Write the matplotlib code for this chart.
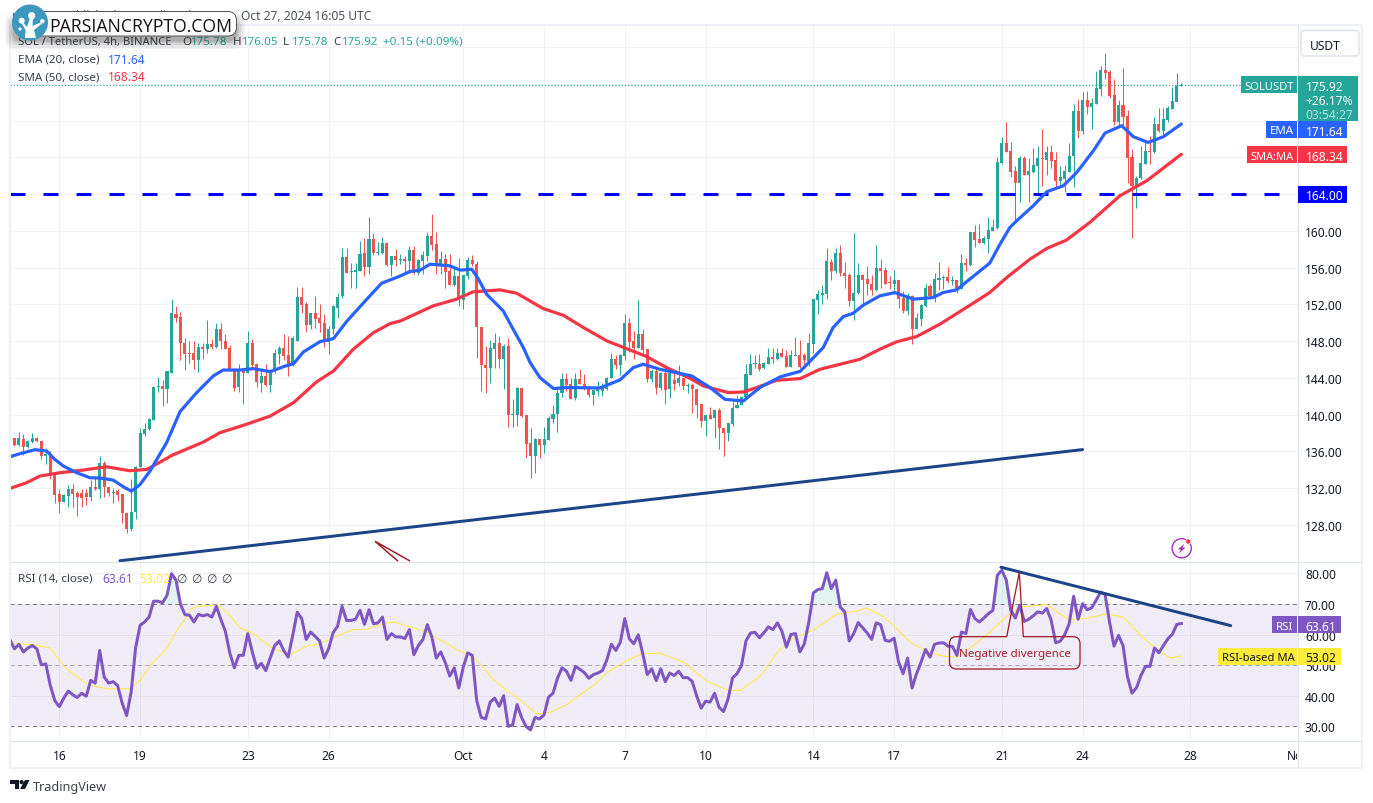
import matplotlib
matplotlib.use("Agg")
import matplotlib.pyplot as plt
import numpy as np
from matplotlib.patches import Rectangle, FancyBboxPatch, Circle, Polygon, PathPatch
from matplotlib.path import Path
from matplotlib.ticker import FixedLocator, FuncFormatter
from matplotlib.transforms import Bbox

FONT = ['Noto Sans', 'DejaVu Sans']
plt.rcParams['font.family'] = FONT
plt.rcParams['lines.scale_dashes'] = False

# ---------- data ----------
opens = [139.42,137.49,136.66,137.39,136.44,137.02,137.42,137.17,135.50,135.75,
133.43,131.32,130.52,131.14,131.87,131.43,131.43,131.43,131.03,132.16,
131.87,134.70,132.16,131.50,131.68,131.32,129.32,127.51,129.40,134.30,
137.86,138.40,139.42,143.01,143.09,142.76,144.54,151.00,150.64,147.84,
146.68,146.68,145.95,147.41,147.12,147.66,147.33,149.37,148.06,147.22,
144.86,143.05,144.76,144.57,147.77,145.48,143.41,144.21,143.19,144.76,
146.61,147.22,146.46,145.37,148.06,152.78,152.02,149.77,151.04,150.49,
150.02,147.91,149.29,151.65,152.93,157.11,155.54,155.54,155.65,157.58,
156.12,159.10,157.58,157.58,158.67,156.27,157.29,156.85,156.92,156.74,
157.90,155.47,156.74,157.29,159.47,158.56,156.20,156.92,155.62,154.09,
155.04,152.49,155.04,156.82,156.45,149.59,145.45,145.05,147.12,147.77,
146.03,147.45,139.93,139.97,142.87,139.93,136.88,135.50,137.32,136.66,
137.24,139.50,140.04,142.33,143.85,143.31,141.78,143.85,143.34,142.95,
142.11,142.58,142.58,142.76,143.96,146.03,145.38,146.39,149.95,147.99,
147.30,148.75,147.12,143.85,144.72,142.95,144.51,142.76,143.74,143.42,
143.96,143.13,143.20,142.84,141.13,139.28,139.93,139.60,140.48,138.59,
137.97,138.95,140.69,141.06,141.96,144.32,145.49,145.49,145.09,145.49,
146.25,146.03,146.76,146.39,145.23,146.39,146.47,146.46,145.84,147.74,
152.50,153.04,153.11,156.67,155.65,157.65,155.47,155.18,152.39,153.22,
155.18,154.75,154.27,153.58,155.94,155.73,154.38,154.20,154.64,152.68,
151.26,152.93,149.37,150.46,151.84,153.95,152.93,154.67,154.89,155.00,
154.57,154.64,153.73,156.56,156.27,159.83,159.10,158.67,159.10,160.01,
160.30,167.38,169.56,168.65,166.48,165.20,167.93,166.11,166.37,167.09,
167.93,167.75,168.54,167.71,165.46,165.64,166.44,168.18,173.01,170.87,
174.25,173.45,173.81,175.44,177.51,177.26,174.79,171.81,173.70,172.47,
168.00,164.84,165.71,167.27,168.65,168.54,171.63,170.87,172.10,173.26,174.06,175.78]

closes = [137.42,136.66,137.42,136.48,137.09,137.42,137.13,135.46,135.75,133.61,
131.25,130.49,131.21,131.90,131.32,131.03,130.96,131.03,132.16,131.87,
134.70,132.12,131.43,131.61,131.21,129.32,127.51,129.43,134.33,137.97,
138.47,139.49,142.98,143.12,142.76,144.72,151.04,150.49,147.77,146.61,
146.61,145.95,147.41,147.15,147.66,147.33,149.37,147.99,147.15,144.94,
142.94,144.76,144.57,147.77,145.41,143.56,144.21,143.23,144.76,146.68,
147.22,146.39,145.30,148.31,152.78,151.94,149.77,151.04,150.38,149.95,
147.91,149.29,151.84,152.85,157.11,155.40,155.62,155.73,157.47,156.09,
159.10,157.58,157.72,158.67,156.27,157.29,156.81,156.92,156.71,157.90,
155.47,156.81,157.36,159.47,158.45,156.20,156.92,155.54,154.09,155.04,
152.57,155.18,156.82,156.38,149.55,145.41,145.05,147.23,147.77,146.10,
147.45,139.93,140.11,142.87,139.86,136.77,135.50,137.32,136.66,137.32,
139.60,140.11,142.40,143.85,143.20,141.75,143.85,143.31,142.84,142.11,
142.65,142.87,142.95,144.03,146.03,145.41,146.50,149.95,147.92,147.30,
148.75,147.05,143.85,144.72,142.95,144.51,142.65,144.58,143.38,143.96,
143.13,143.20,142.76,141.06,139.31,139.93,139.57,140.48,138.51,137.97,
139.06,140.77,141.09,141.96,144.40,145.49,145.60,145.01,145.60,146.25,
146.03,146.76,146.32,145.20,146.47,146.50,145.20,145.95,147.77,152.57,
153.11,153.22,156.74,155.65,157.65,155.47,155.11,152.39,153.29,155.18,
154.67,154.20,153.58,155.94,155.65,154.27,154.31,154.64,152.57,151.26,
152.93,149.37,150.50,151.95,153.84,152.93,154.75,154.86,155.00,154.57,
154.64,153.73,156.56,156.31,159.83,159.00,158.67,159.18,160.05,160.38,
167.46,169.56,168.62,166.44,165.20,167.93,166.11,166.48,167.16,167.93,
167.82,168.54,167.64,165.46,165.82,166.48,168.11,173.01,170.87,174.25,
173.52,173.88,175.52,177.51,177.19,174.72,171.85,173.70,172.43,167.96,
164.91,165.75,167.38,168.65,168.58,171.59,170.83,172.18,173.37,174.14,175.78,175.92]

highs = [139.60,137.49,138.15,137.93,137.24,137.97,137.53,137.17,136.40,136.04,
133.43,131.87,131.32,132.37,132.41,131.72,131.87,131.87,132.85,133.32,
135.50,134.92,132.16,132.05,131.87,131.32,129.32,133.03,134.41,138.58,
139.13,139.60,142.98,144.10,143.78,144.76,152.56,151.84,151.18,148.39,
147.99,148.02,147.77,147.77,150.27,148.20,149.95,149.95,148.75,147.55,
145.12,145.48,145.01,149.08,148.20,145.66,144.76,145.48,144.94,147.12,
147.48,148.75,148.57,148.57,153.94,153.94,152.27,151.04,152.93,152.02,
150.93,149.66,151.94,153.22,158.12,158.12,156.49,156.49,158.92,159.28,
161.46,159.76,158.74,159.39,158.81,157.29,158.01,157.47,157.29,158.38,
158.38,156.92,157.83,159.83,161.83,159.90,157.76,157.47,157.47,156.20,
157.00,155.18,157.21,157.36,156.71,149.59,147.48,148.10,148.94,148.57,
147.67,148.39,141.67,143.02,142.87,139.93,138.59,137.50,137.39,138.70,
139.86,141.06,142.76,144.58,144.58,144.03,144.51,144.94,144.40,142.95,
142.84,143.67,143.42,144.14,146.68,146.50,146.58,151.01,150.57,149.12,
152.46,149.37,147.19,144.94,145.12,144.65,145.49,144.65,144.76,145.38,
144.03,143.49,143.42,142.84,141.13,139.93,140.87,140.48,140.77,138.59,
139.06,141.49,142.11,142.04,145.49,146.65,146.47,146.58,145.78,147.30,
147.30,147.23,147.30,147.05,147.05,148.43,148.10,146.75,148.86,152.57,
153.58,154.09,158.12,156.93,158.09,158.45,156.63,155.47,159.72,156.49,
155.36,156.13,155.18,158.45,156.93,156.02,155.11,155.73,154.67,153.48,
153.29,153.00,151.04,152.02,154.27,154.27,155.47,156.67,155.18,156.02,
155.11,154.64,157.54,157.00,159.90,160.63,160.74,159.47,161.54,161.28,
168.04,170.21,171.81,169.63,167.09,168.11,168.18,167.93,168.98,169.20,
171.09,169.20,169.34,168.54,167.02,167.16,169.56,173.81,174.35,175.08,
175.26,174.43,177.37,177.91,179.36,177.55,176.53,174.25,177.73,173.16,
168.91,166.00,169.27,169.63,170.29,172.36,173.37,173.34,173.56,175.70,177.19,176.05]

lows = [137.42,136.55,136.55,135.64,136.40,136.95,137.02,135.13,134.59,133.03,
130.41,129.29,130.49,129.98,129.94,128.96,129.94,130.12,130.59,131.79,
130.92,131.07,131.14,130.41,130.59,128.23,127.15,127.33,128.60,134.30,
137.67,138.33,139.42,142.47,140.94,141.23,144.54,150.09,145.95,144.86,
145.66,144.94,144.65,146.10,146.68,147.12,147.26,147.12,147.12,144.76,
142.58,142.47,141.12,144.50,145.12,143.05,142.47,143.12,142.47,144.57,
145.48,145.95,144.21,145.30,147.99,151.04,149.00,149.37,149.48,149.00,
147.37,146.57,148.75,150.57,152.75,155.40,153.84,153.84,155.65,155.11,
155.29,157.36,157.36,157.54,156.20,155.11,156.20,156.38,155.58,155.47,
155.29,155.18,155.29,156.74,157.94,155.29,155.29,153.77,154.09,153.95,
151.84,151.48,154.82,156.20,146.14,142.58,142.33,143.49,145.12,145.12,
142.76,138.62,138.62,138.77,139.79,135.28,133.07,133.61,135.28,135.86,
137.24,139.06,138.12,141.93,142.58,141.67,141.60,143.31,142.69,141.96,
141.06,142.04,142.04,142.69,143.96,144.94,144.29,145.96,146.83,146.10,
147.23,146.76,143.56,143.56,142.22,142.69,141.13,141.78,142.69,143.13,
142.69,142.40,140.15,139.68,138.66,137.68,139.50,137.43,136.23,135.50,
137.14,138.77,140.69,141.06,141.67,144.29,145.12,144.76,145.01,145.49,
145.67,145.96,146.29,145.16,145.16,146.39,145.12,145.30,145.30,146.75,
150.93,152.02,152.57,154.67,155.47,155.04,153.80,151.84,150.32,153.11,
152.02,153.00,153.04,153.48,153.84,154.20,153.66,153.11,151.62,151.04,
150.83,147.67,149.30,149.66,151.77,152.86,152.21,153.58,153.73,154.38,
154.09,153.29,153.66,155.65,156.20,158.20,158.67,158.60,157.58,159.98,
160.19,167.27,168.55,165.82,161.10,163.10,166.07,163.10,166.29,163.82,
164.91,166.07,166.84,164.62,164.73,164.26,166.37,164.80,170.14,170.58,
172.72,171.09,173.81,174.72,176.53,174.46,171.52,171.38,171.38,165.20,
159.25,162.52,165.64,167.24,167.27,168.47,170.72,170.43,171.81,173.26,174.06,175.78]

ema_bars = [0,2.2,5.6,8.2,10,11.9,14.9,17.8,20.1,23,25.6,27.1,29,31.2,34.9,37.9,41.6,45.3,47.5,51.3,54.2,58,61,63.2,65.4,69.1,72.1,75,79.5,82.8,87,
89.1,91.4,93.6,98,100.3,102.9,104.4,106.2,109.9,112.2,114.4,115.9,118.1,121.1,124,131.5,135.9,138.9,141.1,144.8,151.9,156,159.3,163.4,167.1,171.6,176.1,
181.2,183.4,185.7,187.9,190.1,193.8,197.2,201.3,205.7,207.9,210.9,214.6,218.3,220.6,222.8,224.3,228,231,234.7,237.7,241.4,244,247.7,250.3,253.6,257,261]
ema_vals = [135.42,135.75,136.19,136.04,135.13,134.41,133.68,133.14,133.10,132.88,132.05,131.68,132.41,133.86,136.95,140.33,142.40,144.21,144.86,144.86,145.01,144.68,145.23,145.55,146.83,147.95,148.28,150.13,152.56,154.30,155.10,
155.58,155.73,156.38,156.20,155.73,155.83,154.75,153.11,151.30,149.23,147.30,145.67,144.03,142.84,142.95,142.91,143.78,145.12,145.49,144.94,144.22,142.95,141.67,141.49,142.95,144.11,144.72,
147.30,149.48,150.68,151.04,151.91,152.93,153.29,152.57,152.75,153.29,153.58,155.04,156.49,158.56,160.38,161.10,162.74,164.26,164.91,166.37,168.73,170.65,171.45,170.25,169.63,170.25,171.64]

sma_bars = [0,3.7,6.7,11.1,16.3,21.5,26.7,30.5,36.4,43.1,46.8,52,58,63.2,68.3,72.1,76.5,81,84.7,87,
94.3,99.5,103.2,109.2,112.9,118.8,123.3,127.8,133,141.9,146.3,151.5,154.5,160.1,163.4,166.4,170.8,176.1,
180.5,189.4,193.8,197.5,202,207.2,213.9,218.3,222.1,227.3,231,235.4,240.6,247.3,253.3,261]
sma_vals = [131.97,132.59,133.32,133.68,133.97,134.33,133.90,134.04,135.64,137.02,138.04,138.84,139.85,141.31,143.56,144.76,147.12,148.93,149.91,150.20,
151.84,152.57,153.37,153.58,153.22,151.55,150.82,149.48,148.03,146.32,145.12,143.96,143.13,142.40,142.47,142.95,143.74,143.93,
144.94,146.03,147.12,147.92,148.50,149.85,151.91,153.29,154.93,156.93,158.09,159.00,160.92,163.82,165.46,168.34]

rsi_vals = [58.3,55.3,56.8,54.3,55.6,56.4,55.3,50.1,50.4,43.3,38.4,36.4,39.2,41.5,40.3,39.4,40.8,39.8,45.0,44.1,
54.8,46.1,44.1,44.6,43.3,37.6,33.5,41.1,55.6,63.0,64.1,65.7,70.9,70.9,70.4,72.8,79.9,77.8,69.9,66.5,
66.3,64.1,66.6,66.1,66.5,65.7,69.2,64.9,61.1,53.9,49.1,53.2,53.2,60.3,54.3,49.0,50.6,48.2,52.4,56.4,
57.9,54.8,52.6,59.7,67.3,65.2,58.4,60.8,59.4,57.9,52.3,55.3,60.6,62.7,69.2,64.6,64.6,65.0,67.9,63.3,
68.1,63.5,63.8,65.7,58.4,60.3,59.2,59.2,58.7,61.6,53.4,56.4,58.3,63.2,59.2,52.3,54.3,50.8,46.4,49.1,
42.5,49.3,54.0,53.2,38.4,32.9,32.4,37.9,39.2,36.5,40.0,30.0,30.4,37.1,32.9,29.9,28.8,32.9,32.4,33.7,
39.5,40.8,45.7,49.1,48.0,45.0,49.6,48.6,47.5,45.7,46.9,47.4,48.2,51.7,56.8,54.8,57.5,65.2,58.6,57.0,
59.9,53.7,46.9,48.8,44.9,48.8,44.6,47.4,46.6,48.0,45.9,45.9,44.7,40.0,35.9,38.2,37.9,40.8,36.2,34.8,
38.9,45.8,47.2,49.9,57.9,60.5,60.7,59.0,60.6,62.5,61.6,63.8,61.1,55.9,60.0,60.3,54.3,57.0,64.1,73.6,
74.7,75.0,80.2,75.0,77.8,69.0,67.4,57.9,60.3,63.9,62.2,60.5,58.4,63.8,63.2,58.1,57.8,58.8,51.0,47.2,
52.3,42.5,47.2,51.0,55.1,52.6,56.8,57.2,57.3,56.2,56.1,53.2,60.8,60.3,68.2,65.2,64.1,65.4,66.8,67.9,
79.4,81.0,77.8,67.9,65.4,69.6,64.3,65.0,66.1,67.4,67.0,68.5,64.6,57.3,57.8,59.9,63.5,72.5,65.0,70.1,
68.1,68.7,71.2,73.9,73.1,64.1,56.2,59.7,56.4,46.1,40.8,42.6,46.6,49.6,49.6,55.6,54.0,56.4,58.6,60.1,63.3,63.61]

rsi_ma_bars = [0,5.2,8.9,10.8,12.6,16.3,18.6,21.9,26.7,29,31.9,34.9,37.1,40.5,42.3,46.1,48.3,51.3,54.2,58.7,62.4,66.1,69.1,72.1,76.5,79.5,83.2,85.4,88.4,92.9,95.8,100.3,
102.5,104.8,107.7,110.7,114.4,117.4,120.4,124.1,126.3,130,133.7,137.5,140.8,144.9,150.1,155.3,160.1,162.7,167.2,171.3,174.6,179,184.2,188.7,190.9,194.7,197.6,200.6,
204.3,208,211,214.7,218.4,222.1,225.5,231.1,233.3,235.9,239.2,244.4,248.1,251.9,256.3,258.6,261]
rsi_ma_vals = [57.0,56.7,55.6,52.1,48.8,44.7,43.1,42.2,42.3,45.0,51.0,55.3,61.1,68.5,69.3,69.6,67.4,62.2,60.3,55.3,53.4,56.2,57.0,59.0,61.6,61.7,63.5,64.1,62.9,60.8,58.3,54.5,
53.7,50.4,45.3,41.7,37.9,34.0,34.6,37.1,39.5,43.3,48.2,51.5,53.7,53.9,51.0,44.7,41.7,41.7,46.3,54.8,59.0,61.4,66.6,67.7,68.7,65.7,61.9,57.5,
54.5,52.9,52.6,56.4,60.8,66.1,69.0,69.8,67.4,64.9,65.2,66.7,65.7,59.7,54.3,52.3,53.02]

support_level = 164.0
price_trend_bars = [24.5, 239]
price_trend_vals = [124.1, 136.2]
rsi_trend_bars = [220.8, 272]
rsi_trend_vals = [82.0, 62.9]

date_ticks = [11, 29, 53, 71, 101, 119, 137, 155, 179, 197, 221, 239, 263, 287]
date_labels = ['16', '19', '23', '26', 'Oct', '4', '7', '10', '14', '17', '21', '24', '28', 'Nov']
price_ticks = list(range(128, 184, 4))
rsi_ticks = [30, 40, 50, 60, 70, 80]

UP, DOWN = '#26a69a', '#ef5350'
BLUE, RED, PURPLE, YEL = '#2962ff', '#f23645', '#7e57c2', '#ffeb3b'
TXT = '#131722'
NAVY = '#1c4587'
GRID = '#f1f2f5'
BORDER = '#e0e3eb'
OUTER = '#eff0f5'
W, H = 1373, 804
PX = 0.72
PANE_L, PANE_R = 10, 1298.1

fig = plt.figure(figsize=(W / 100, H / 100), dpi=100, facecolor='white')

def pane(x0, y0, x1, y1):
    return fig.add_axes([x0 / W, 1 - y1 / H, (x1 - x0) / W, (y1 - y0) / H])

ax = pane(PANE_L, 26, PANE_R, 562.5)
rx = pane(PANE_L, 562.5, PANE_R, 741)
XL = (0.016, 287.01)
for a in (ax, rx):
    a.set_xlim(*XL)
    a.set_axisbelow(True)
    a.set_facecolor('white')
    for s in a.spines.values():
        s.set_visible(False)
    a.xaxis.set_major_locator(FixedLocator(date_ticks))
    a.grid(True, color=GRID, lw=1 * PX)
    a.yaxis.tick_right()
    a.tick_params(length=0, labelsize=12 * PX, colors=TXT, pad=4.9)

ax.set_ylim(124.02, 182.41)
ax.yaxis.set_major_locator(FixedLocator(price_ticks))
ax.yaxis.set_major_formatter(FuncFormatter(lambda v, p: f'{v:.2f}' if v <= 160 else ''))
ax.xaxis.set_major_formatter(FuncFormatter(lambda v, p: ''))

# candles
bars = np.arange(len(opens))
o, h, l, c = map(np.array, (opens, highs, lows, closes))
cols = np.where(c >= o, UP, DOWN)
ax.vlines(bars, l, h, colors=cols, lw=1 * PX, zorder=3)
ax.bar(bars, np.maximum(np.abs(c - o), 0.1), bottom=np.minimum(o, c), width=0.68, color=cols, lw=0, zorder=3)

ax.plot(ema_bars, ema_vals, color=BLUE, lw=3.2 * PX, zorder=5, solid_capstyle='round', solid_joinstyle='round')
ax.plot(sma_bars, sma_vals, color=RED, lw=3.2 * PX, zorder=4, solid_capstyle='round', solid_joinstyle='round')

span = PANE_R - PANE_L
ax.axhline(support_level, xmax=(1280 - PANE_L) / span, color='#0000ff', lw=3 * PX, zorder=4,
           dash_capstyle='butt', ls=(0, (15 * PX, 18 * PX)))
ax.axhline(closes[-1], xmax=(1241 - PANE_L) / span, color=UP, lw=1.2 * PX, zorder=2, ls=(0, (1.2 * PX, 2 * PX)))
ax.plot(price_trend_bars, price_trend_vals, color=NAVY, lw=3 * PX, zorder=5, solid_capstyle='round')

# RSI pane
rx.set_ylim(25.51, 83.87)
rx.yaxis.set_major_locator(FixedLocator(rsi_ticks))
rx.yaxis.set_major_formatter(FuncFormatter(lambda v, p: f'{v:.2f}'))
rx.set_xticklabels(date_labels)
rx.tick_params(axis='x', pad=6.3)
rx.axhspan(30, 70, color=PURPLE, alpha=0.10, lw=0, zorder=1)
for lev, al in ((70, 1), (50, .55), (30, 1)):
    rx.axhline(lev, color='#787b86', lw=1 * PX, alpha=al, ls=(0, (4 * PX, 3.5 * PX)), zorder=2, dash_capstyle='butt')
rsi_bars = np.arange(len(rsi_vals))
rsi = np.array(rsi_vals)
rx.fill_between(rsi_bars, 70, rsi, where=rsi > 70, interpolate=True, color=UP, alpha=.13, lw=0, zorder=2)
rx.plot(rsi_ma_bars, rsi_ma_vals, color=YEL, lw=1 * PX, zorder=3)
rx.plot(rsi_bars, rsi, color=PURPLE, lw=3 * PX, zorder=4, solid_joinstyle='round')
rx.plot(rsi_trend_bars, rsi_trend_vals, color=NAVY, lw=3 * PX, zorder=6, solid_capstyle='round')
clip_right = Bbox([[0, 0], [1297, H]])
for lbl in rx.get_xticklabels():
    lbl.set_clip_box(clip_right)
    lbl.set_clip_on(True)

# ---------- overlay (pixels) ----------
oa = fig.add_axes([0, 0, 1, 1], zorder=10)
oa.set_xlim(0, W)
oa.set_ylim(H, 0)
oa.axis('off')
oa.patch.set_alpha(0)

def T(x, y, s, color=TXT, size=12, ha='left', **kw):
    return oa.text(x, y, s, color=color, fontsize=size * PX, ha=ha, va='center_baseline', **kw)

def box(x0, y0, x1, y1, fc, **kw):
    oa.add_patch(Rectangle((x0, y0), x1 - x0, y1 - y0, fc=fc, ec='none', **kw))

# frame
for seg in (((9.5, 25.5), (1362, 25.5)), ((1362, 25.5), (1362, 768.5)), ((9.5, 768.5), (1362, 768.5)), ((9.5, 25.5), (9.5, 768.5))):
    oa.plot(*zip(*seg), color=OUTER, lw=2 * PX, solid_capstyle='butt', zorder=1)
for seg in (((10, 562.5), (1361, 562.5)), ((10, 741.5), (1361, 741.5)), ((1297.5, 26), (1297.5, 768))):
    oa.plot(*zip(*seg), color=BORDER, lw=1.2 * PX, solid_capstyle='butt', zorder=1)

# header and legends
T(371, 15, 'published on TradingView.com, Oct 27, 2024 16:05 UTC', color='#4a4e58', size=12, ha='right')
T(12, 15, 'm', color='#4a4e58')
y = 41
T(18, y, 'SOL / TetherUS, 4h, BINANCE', color='#3a3e48', size=11.2)
for x, lab, val in ((182, 'O', '175.78'), (233, 'H', '176.05'), (283, 'L', '175.78'), (333, 'C', '175.92')):
    T(x, y, lab, color='#3a3e48', size=11.6)
    T(x + 8.5, y, val, color=UP, size=11.6)
T(383, y, '+0.15 (+0.09%)', color=UP, size=11.6)
T(18, 59, 'EMA (20, close)', color='#3a3e48', size=11.6)
T(108, 59, '171.64', color=BLUE)
T(18, 76, 'SMA (50, close)', color='#3a3e48', size=11.6)
T(107.5, 76, '168.34', color=RED)
T(18, 578, 'RSI (14, close)', color='#3a3e48', size=11.6)
T(102, 578, '63.61', color=PURPLE)
T(139, 578, '53.02', color=YEL)
for x in (176, 191, 206, 221):
    T(x, 578, '\u2205', color='#3a3e48')

# logo (drawn over the header)
LZ = 6
for grow, al in ((9, .05), (7, .06), (5, .08), (3, .10), (1.5, .12)):
    oa.add_patch(FancyBboxPatch((14 - grow, 23 - grow), 222 + 2 * grow, 18 + 2 * grow,
                                boxstyle='round,pad=0,rounding_size=10', fc='#222222', ec='none', alpha=al, zorder=LZ))
oa.add_patch(FancyBboxPatch((30, 12.5), 206.5, 24.5, boxstyle='round,pad=0,rounding_size=9',
                            fc='white', ec='#555555', lw=1 * PX, zorder=LZ))
T(49.5, 25.5, 'PARSIANCRYPTO.COM', color='#111111', size=17.6, family='Open Sans', fontweight='medium', zorder=LZ + 1)
oa.add_patch(Circle((30, 23.5), 18, fc='#3d98bf', ec='none', zorder=LZ + 1))
for cx, cy, r in ((31.7, 16.7, 3.6), (21.7, 21.7, 3), (42.3, 22.3, 2.2), (20, 30, 1.6)):
    oa.add_patch(Circle((cx, cy), r, fc='white', ec='none', zorder=LZ + 2))
oa.add_patch(Polygon([(25, 39), (25.5, 31), (21.5, 24), (23.5, 24), (27, 28), (30, 19), (33, 19), (32.5, 27),
                      (40.5, 23.5), (41.5, 25), (34, 31), (36, 39)], fc='white', ec='none', zorder=LZ + 2))

# scale tags
oa.add_patch(FancyBboxPatch((1301, 31.5), 58, 25.5, boxstyle='round,pad=0,rounding_size=3', fc='white', ec=BORDER, lw=1.5 * PX))
T(1310, 44.5, 'USDT')
box(1241, 77.3, 1297, 94, UP)
T(1269, 85.7, 'SOLUSDT', color='white', ha='center', size=11.2, fontweight='medium')
box(1298, 77.3, 1358, 121.7, UP)
T(1305.5, 85.7, '175.92', color='white', fontweight='medium')
T(1305.5, 100, '+26.17%', color='white', fontweight='medium')
T(1305.5, 114, '03:54:27', color='#b7e2dd')
box(1266, 122, 1297, 139, BLUE)
T(1281.5, 130.5, 'EMA', color='white', ha='center', size=11.4, fontweight='medium')
box(1298, 122, 1346.7, 139, BLUE)
T(1305.5, 130.5, '171.64', color='white', fontweight='medium')
box(1247, 147.3, 1297, 164, RED)
T(1272, 155.7, 'SMA:MA', color='white', ha='center', size=11, fontweight='medium')
box(1298, 147.3, 1346.7, 164, RED)
T(1305.5, 155.7, '168.34', color='white', fontweight='medium')
box(1298, 187, 1346.7, 203.7, '#0000ff')
T(1305.5, 195.3, '164.00', color='white', fontweight='medium')
box(1272, 617.3, 1297, 634, PURPLE)
T(1284.5, 625.7, 'RSI', color='white', ha='center', size=11.4, fontweight='medium')
box(1298, 617.3, 1341, 634, PURPLE)
T(1305.5, 625.7, '63.61', color='white', fontweight='medium')
box(1218, 649, 1297, 666, YEL)
T(1222.5, 657.5, 'RSI-based MA', color=TXT, size=11.2)
box(1298, 649, 1341, 666, YEL)
T(1305.5, 657.5, '53.02', color=TXT)

# callout
DR = '#a61c2a'
x0c, x1c, y0c, y1c, r = 949.5, 1080, 637.7, 670, 7
verts = [(1006.7, y0c), (1019.3, 573.3), (1023.3, y0c), (x1c - r, y0c), (x1c, y0c), (x1c, y0c + r), (x1c, y1c - r), (x1c, y1c), (x1c - r, y1c),
         (x0c + r, y1c), (x0c, y1c), (x0c, y1c - r), (x0c, y0c + r), (x0c, y0c), (x0c + r, y0c), (1006.7, y0c)]
codes = [Path.MOVETO, Path.LINETO, Path.LINETO, Path.LINETO, Path.CURVE3, Path.CURVE3, Path.LINETO, Path.CURVE3, Path.CURVE3,
         Path.LINETO, Path.CURVE3, Path.CURVE3, Path.LINETO, Path.CURVE3, Path.CURVE3, Path.LINETO]
oa.add_patch(PathPatch(Path(verts, codes), fc='none', ec=DR, lw=1.3 * PX))
T(1014.5, 653.5, 'Negative divergence', color=DR, ha='center', size=11.6)
# partly visible callout above the RSI pane
oa.plot([397.5, 375, 409.5], [561.7, 542.3, 561.7], color='#9c1c2a', lw=1.5 * PX, solid_joinstyle='miter')

# flash icon
oa.add_patch(Circle((1181.7, 549.3), 9.6, fc='white', ec='#9c27b0', lw=1.3 * PX))
oa.add_patch(Polygon([(1184.5, 544.5), (1178, 550.5), (1181, 550.5), (1178.7, 554.5), (1185.5, 548.5), (1182.3, 548.5)], fc='#9c27b0', ec='none'))
oa.add_patch(Circle((1188.3, 542.5), 2.6, fc=RED, ec='white', lw=.5))

# TradingView mark
oa.add_patch(Polygon([(10, 781), (19, 781), (19, 790), (14.5, 790), (14.5, 785.3), (10, 785.3)], fc='#131722', ec='none'))
oa.add_patch(Circle((21.6, 783.1), 2.1, fc='#131722', ec='none'))
oa.add_patch(Polygon([(25, 781), (29.5, 781), (25, 790), (20, 790)], fc='#131722', ec='none'))
T(33, 786, 'TradingView', color='#3e4148', size=12.6)

fig.savefig('out.png', dpi=100)
